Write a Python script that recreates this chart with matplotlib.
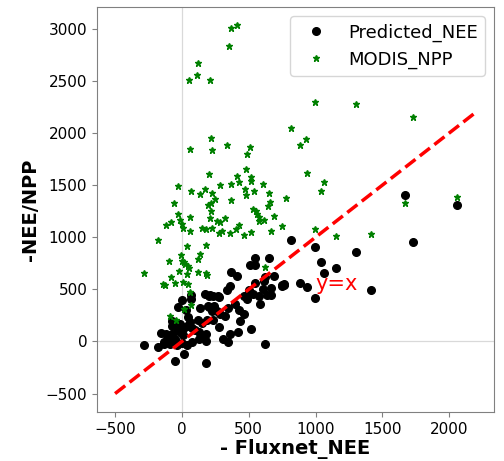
import numpy as np
import matplotlib
matplotlib.use("Agg")
import matplotlib.pyplot as plt

# MODIS NPP (green stars): x = -Fluxnet NEE, y = NPP
npp_x = [369, 409, 349, 123, 116, 56, 208, 996, 1300, 1730, 815, 929, 887, 215, 58,
         335, 509, 228, 489, 203, 481, 414, 514, 934, 1061, -31, 71, 136, 173, 228,
         282, 364, 427, 516, 608, 474, 543, 651, 777, 1039, 2056, 1668, 1414, 1155,
         994, 623,
         -56, 195, 220, 250, 364, 479, 660, 643, 534, 551, 561, 576, 220, 208, 265,
         287, 319, -28, 63, -11, -78, -121, 4, 6, 63, 151, 181, 228, 278, 297, 362,
         401, 424, 461, 516, 578, 616, 690, 670, 750,
         -181, 36, 178, -4, 136, -96, 118, 13, 49, 1, 26, 56, -285, -140, -123, -78,
         -24, 36, 118, 181, 190, -51, 6, 46, 58, 71, 16, -86, -46]
npp_y = [3007, 3032, 2837, 2670, 2561, 2507, 2507, 2301, 2276, 2157, 2051, 1945, 1888,
         1952, 1846, 1888, 1865, 1837, 1798, 1606, 1654, 1590, 1580, 1618, 1532, 1490,
         1442, 1410, 1465, 1420, 1500, 1506, 1532, 1538, 1506, 1461, 1442, 1420, 1372,
         1442, 1388, 1324, 1032, 1010, 1080, 715,
         1327, 1308, 1333, 1365, 1359, 1404, 1337, 1298, 1269, 1250, 1224, 1195, 1250,
         1189, 1154, 1144, 1180, 1224, 1195, 1170, 1144, 1118, 1125, 1087, 1061, 1093,
         1077, 1093, 1038, 1058, 1038, 1080, 1115, 1022, 1048, 1151, 1163, 1199, 1058,
         1106,
         974, 920, 926, 830, 839, 772, 791, 760, 721, 772, 747, 702, 654, 555, 538, 618,
         680, 647, 670, 654, 640, 564, 567, 551, 478, 349, 308, 243, 209]

# Predicted NEE (black dots)
nee_x = [1668, 2061, 1730, 1300, 1414, 994, 1039, 1155, 1063, 994, 887, 934, 815, 750,
         765, 648, 546, 511, 549, 369, 412, 688, 616, 549, 767, 748, 362, 337, 499, 486,
         531, 576, 663, 668, 175, 203, 233, 280, 69, 4, 138, 200, 245, 263, 287, 325,
         342, 399, 427, 461, 431, 516, 416, 362, 305, 347, 618, 280, 233, 188, 153, 118,
         63, 39, 9, -26, -11, -31, 28, 73, 101, 131, 181, 140, 178, 128, 78, 39, -1,
         -36, -69, -99, -110, -136, -181, -285, -54, 13, -49, 183, -11, -73, 6,
         623, 610, 640, 581, 240, 213, 272, 66, 193, 222, 46, -71, -73, -153, -118, -81,
         -131, -86, 489, 464]
nee_y = [1404, 1305, 955, 856, 497, 910, 766, 702, 657, 420, 564, 522, 971, 545, 548,
         801, 798, 737, 731, 670, 625, 625, 580, 564, 538, 529, 529, 497, 490, 442, 458,
         436, 516, 442, 458, 436, 433, 423, 442, 401, 320, 330, 298, 288, 260, 240, 324,
         356, 305, 260, 192, 118, 87, 70, 22, -3, -22, 138, 202, 209, 176, 202, 186, 144,
         122, 112, 163, 330, 298, 125, 106, 89, 74, 48, 0, 26, -7, -38, -10, -38, -7, 41,
         10, -22, -55, -32, 26, -125, -183, -209, 89, 74, 61,
         618, 506, 442, 362, 337, 449, 439, 407, 343, 288, 237, 195, 147, 80, 67, 29,
         -3, -22, 410, 436]

line_ends = [-500, 2200]


def main():
    fig = plt.figure(figsize=(5.04, 4.61), dpi=100)
    ax = fig.add_axes([0.1925, 0.1063, 0.7877, 0.8785])

    ax.axhline(0, color='0.85', lw=0.9, zorder=0)
    ax.axvline(0, color='0.85', lw=0.9, zorder=0)

    ax.plot(nee_x, nee_y, 'o', color='black', ms=5.5, label='Predicted_NEE')
    ax.plot(npp_x, npp_y, '*', color='green', ms=5, label='MODIS_NPP')
    ax.plot(line_ends, line_ends, 'r--', lw=2.5)
    ax.text(1000, 550, 'y=x', color='red', fontsize=15, va='center')

    ax.set_xticks([-500, 0, 500, 1000, 1500, 2000])
    ax.set_yticks([-500, 0, 500, 1000, 1500, 2000, 2500, 3000])
    ax.tick_params(labelsize=11, color='0.5')
    for s in ax.spines.values():
        s.set_color('0.5')

    ax.set_xlabel('- Fluxnet_NEE', fontsize=14, fontweight='bold', labelpad=2)
    ax.set_ylabel('-NEE/NPP', fontsize=14, fontweight='bold')
    ax.legend(loc='upper right', fontsize=13)

    fig.savefig('out.png')


if __name__ == "__main__":
    main()
